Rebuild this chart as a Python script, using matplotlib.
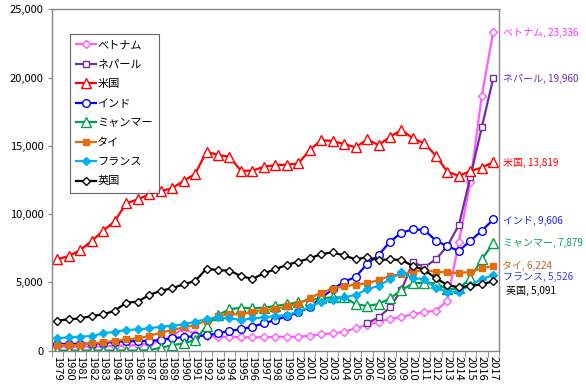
import numpy as np
import matplotlib
matplotlib.use("Agg")
import matplotlib.pyplot as plt
from matplotlib.ticker import FuncFormatter

plt.rcParams['font.family'] = ['Noto Sans CJK JP', 'DejaVu Sans']

years = list(range(1979, 2018))

vietnam = [280, 280, 300, 300, 320, 340, 380, 420, 520, 700, 1100, 1600, 1250,
           1070, 1020, 1020, 980, 980, 980, 1020, 1020, 1020, 1100, 1200, 1270,
           1390, 1640, 1880, 2120, 2320, 2490, 2660, 2830, 2930, 3660, 7950,
           12330, 18670, 23336]
nepal = [np.nan] * 27 + [2000, 2440, 3170, 4460, 6480, 6120, 6690, 7660, 9200,
                         12690, 16350, 19960]
usa = [6690, 6930, 7370, 8050, 8780, 9490, 10790, 11080, 11450, 11690, 11890,
       12440, 12930, 14570, 14330, 14200, 13180, 13180, 13470, 13590, 13620,
       13710, 14690, 15420, 15350, 15130, 14890, 15470, 15060, 15670, 16160,
       15550, 15180, 14280, 13100, 12810, 13150, 13400, 13819]
india = [500, 500, 510, 520, 540, 660, 680, 700, 720, 780, 900, 1000, 1060,
         1120, 1270, 1460, 1560, 1760, 2000, 2250, 2520, 2800, 3180, 3870, 4500,
         5050, 5400, 6350, 7000, 7980, 8640, 8880, 8840, 8050, 7660, 7300, 8050,
         8780, 9606]
myanmar = [10, 10, 10, 10, 10, 10, 10, 10, 30, 220, 400, 540, 780, 1800, 2610,
           3030, 3150, 3100, 3150, 3270, 3400, 3540, 3710, 3830, 3910, 3900,
           3420, 3270, 3420, 3830, 4440, 4930, 4980, 4930, 4490, 4570, 5300,
           6690, 7879]
thailand = [420, 420, 420, 540, 610, 730, 830, 900, 1080, 1320, 1510, 1710, 1880,
            2200, 2540, 2660, 2660, 2860, 2980, 3050, 3240, 3440, 3830, 4260,
            4530, 4710, 4840, 4930, 5170, 5470, 5610, 5780, 5910, 5780, 5740,
            5670, 5780, 6030, 6224]
france = [900, 980, 1030, 1080, 1270, 1390, 1510, 1560, 1640, 1760, 1830, 1930,
          2120, 2300, 2440, 2370, 2250, 2370, 2440, 2540, 2610, 2860, 3200, 3590,
          3740, 3910, 4080, 4490, 4740, 5230, 5740, 5300, 5250, 4570, 4320, 4320,
          4810, 5250, 5526]
uk = [2200, 2300, 2370, 2540, 2660, 2930, 3510, 3590, 4080, 4390, 4570, 4860,
      5100, 6000, 5900, 5860, 5470, 5250, 5670, 5960, 6280, 6520, 6760, 7080,
      7190, 6970, 6690, 6840, 6640, 6690, 6640, 6200, 5910, 5300, 4810, 4640,
      4740, 4860, 5091]

names = ['ベトナム', 'ネパール', '米国', 'インド', 'ミャンマー', 'タイ', 'フランス', '英国']
series = [vietnam, nepal, usa, india, myanmar, thailand, france, uk]

# line colour, marker, marker face, marker size, label colour, label offset (px)
styles = [
    ('#FF5CFF', 'D', 'white', 4.5, '#FF33FF', (10, -1)),
    ('#7030A0', 's', 'white', 5.0, '#7030A0', (10, -1)),
    ('#FF0000', '^', 'white', 6.5, '#FF0000', (10, -1)),
    ('#0000FF', 'o', 'white', 5.5, '#2020FF', (10, -1)),
    ('#00A050', '^', 'white', 6.5, '#00A050', (10, 0)),
    ('#E46C0A', 's', '#E46C0A', 5.0, '#C0662B', (9, 0)),
    ('#00B0F0', 'D', '#00B0F0', 4.5, '#2F3FFF', (10, -2)),
    ('#000000', 'D', 'white', 4.5, '#000000', (13, -10)),
]

fig = plt.figure(figsize=(5.86, 3.85), dpi=100)
ax = fig.add_axes([0.0882, 0.0891, 0.7633, 0.8869])

x = np.arange(len(years))
for name, vals, (col, mk, mfc, ms, tcol, off) in zip(names, series, styles):
    y = np.array(vals, dtype=float)
    ax.plot(x, y, color=col, lw=1.6, marker=mk, markersize=ms,
            markerfacecolor=mfc, markeredgecolor=col, markeredgewidth=1.0,
            label=name)
    last = int(vals[-1])
    ax.annotate(f'{name}, {last:,}', xy=(x[-1], last), xytext=off,
                textcoords='offset pixels', ha='left', va='center',
                fontsize=7.2, color=tcol, annotation_clip=False)

ax.set_xlim(-0.5, len(years) - 0.5)
ax.set_ylim(0, 25000)
ax.set_yticks(range(0, 25001, 5000))
ax.yaxis.set_major_formatter(FuncFormatter(lambda v, p: f'{int(v):,}'))
ax.tick_params(axis='y', labelsize=8, length=3, color='#868686', pad=3)

ax.set_xticks(x)
ax.set_xticklabels([str(yr) for yr in years], rotation=-90, fontsize=8)
ax.tick_params(axis='x', which='major', length=0, pad=4)
ax.set_xticks(np.arange(-0.5, len(years)), minor=True)
ax.tick_params(axis='x', which='minor', length=4, color='#868686')

for sp in ax.spines.values():
    sp.set_color('#868686')
    sp.set_linewidth(1.0)

leg = ax.legend(loc='upper left', bbox_to_anchor=(0.041, 0.927),
                borderaxespad=0, fontsize=8, frameon=True, fancybox=False,
                edgecolor='#404040', labelspacing=0.85, handlelength=1.8,
                handletextpad=0.1, borderpad=0.55)
leg.get_frame().set_linewidth(0.8)

fig.savefig('out.png', dpi=100)
